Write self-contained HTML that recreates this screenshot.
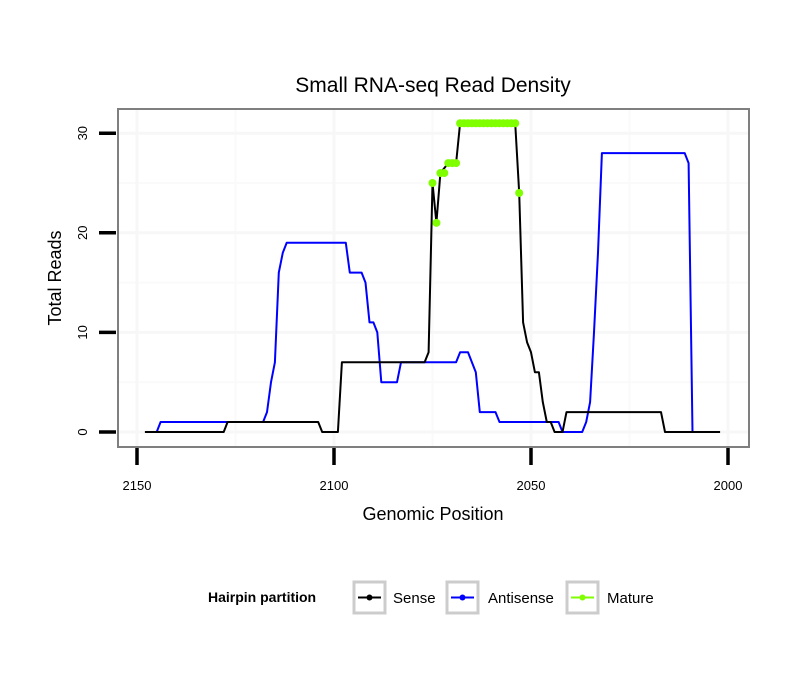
<!DOCTYPE html>
<html><head><meta charset="utf-8"><style>
html,body{margin:0;padding:0;background:#fff;}
svg{display:block;font-family:"Liberation Sans",Arial,sans-serif;}
</style></head><body>
<svg id="chart" width="810" height="690" viewBox="0 0 810 690" xmlns="http://www.w3.org/2000/svg">
<rect x="0" y="0" width="810" height="690" fill="#fff"/>
<text x="433" y="92" font-size="21" text-anchor="middle" fill="#000">Small RNA-seq Read Density</text>
<g id="grid"></g>
<g id="series"></g>
<rect x="118" y="109" width="631" height="338" fill="none" stroke="#7f7f7f" stroke-width="2"/>
<g id="axes"></g>
<text x="433" y="520" font-size="18" text-anchor="middle">Genomic Position</text>
<text transform="translate(61,278) rotate(-90)" font-size="18" text-anchor="middle">Total Reads</text>
<g>
<text x="208" y="602" font-size="14" font-weight="bold">Hairpin partition</text>
<g>
<rect x="354" y="582" width="31" height="31" fill="#fff" stroke="#cccccc" stroke-width="3"/>
<line x1="358" y1="597.5" x2="381" y2="597.5" stroke="#000" stroke-width="2"/>
<circle cx="369.5" cy="597.5" r="3" fill="#000"/>
<text x="393" y="603" font-size="15">Sense</text></g>
<g>
<rect x="447" y="582" width="31" height="31" fill="#fff" stroke="#cccccc" stroke-width="3"/>
<line x1="451" y1="597.5" x2="474" y2="597.5" stroke="#0000ff" stroke-width="2"/>
<circle cx="462.5" cy="597.5" r="3" fill="#0000ff"/>
<text x="488" y="603" font-size="15">Antisense</text></g>
<g>
<rect x="567" y="582" width="31" height="31" fill="#fff" stroke="#cccccc" stroke-width="3"/>
<line x1="571" y1="597.5" x2="594" y2="597.5" stroke="#7fff00" stroke-width="2"/>
<circle cx="582.5" cy="597.5" r="3" fill="#7fff00"/>
<text x="607" y="603" font-size="15">Mature</text></g>
</g>
</svg>
<script>
const xTicks = [2150, 2100, 2050, 2000];
const xMinor = [2125, 2075, 2025];
const yTicks = [0, 10, 20, 30];
const yMinor = [5, 15, 25];
const sensePos = [2148,2128,2127,2104,2103,2099,2098,2077,2076,2075,2074,2073,2071,2069,2068,2054,2053,2052,2051,2050,2049,2048,2047,2046,2045,2044,2042,2041,2017,2016,2002];
const senseVal = [0,0,1,1,0,0,7,7,8,25,21,26,27,27,31,31,24,11,9,8,6,6,3,1,1,0,0,2,2,0,0];
const antiPos = [2145,2144,2118,2117,2116,2115,2114,2113,2112,2097,2096,2093,2092,2091,2090,2089,2088,2084,2083,2069,2068,2066,2065,2064,2063,2059,2058,2043,2042,2037,2036,2035,2034,2033,2032,2011,2010,2009];
const antiVal = [0,1,1,2,5,7,16,18,19,19,16,16,15,11,11,10,5,5,7,7,8,8,7,6,2,2,1,1,0,0,1,3,10,18,28,28,27,0];
const maturePos = [2075,2074,2073,2072,2071,2070,2069,2068,2067,2066,2065,2064,2063,2062,2061,2060,2059,2058,2057,2056,2055,2054,2053];
const matureVal = [25,21,26,26,27,27,27,31,31,31,31,31,31,31,31,31,31,31,31,31,31,31,24];

const NS = 'http://www.w3.org/2000/svg';
function xs(p){ return 137 + (2150 - p) * 3.94; }
function ys(v){ return 432 - v * 9.96; }
function mk(tag, attrs, parent){ const e = document.createElementNS(NS, tag); for (const k in attrs) e.setAttribute(k, attrs[k]); parent.appendChild(e); return e; }
const grid = document.getElementById('grid'), axes = document.getElementById('axes'), series = document.getElementById('series');

xMinor.forEach(p => { const l = mk('line', {x1: xs(p), x2: xs(p), y1: 110, y2: 446, stroke: '#fafafa', 'stroke-width': 2}, grid);
    });
yMinor.forEach(v => { const l = mk('line', {x1: 119, x2: 748, y1: ys(v), y2: ys(v), stroke: '#fafafa', 'stroke-width': 2}, grid);
    });
xTicks.forEach(p => { const l = mk('line', {x1: xs(p), x2: xs(p), y1: 110, y2: 446, stroke: '#f7f7f7', 'stroke-width': 3}, grid);
    });
yTicks.forEach(v => { const l = mk('line', {x1: 119, x2: 748, y1: ys(v), y2: ys(v), stroke: '#f7f7f7', 'stroke-width': 3}, grid);
    });

xTicks.forEach(p => {
  const t = mk('line', {x1: xs(p), x2: xs(p), y1: 448, y2: 465, stroke: '#000', 'stroke-width': 3.5}, axes);
   
  const tx = mk('text', {x: xs(p), y: 490, 'font-size': 13, 'text-anchor': 'middle'}, axes);
  tx.textContent = p;
   
});
yTicks.forEach(v => {
  const t = mk('line', {x1: 99, x2: 116, y1: ys(v), y2: ys(v), stroke: '#000', 'stroke-width': 3.5}, axes);
   
  const tx = mk('text', {transform: 'translate(87,' + ys(v) + ') rotate(-90)', 'font-size': 13, 'text-anchor': 'middle'}, axes);
  tx.textContent = v;
   
});

function line(pos, val, color, name){
  const d = pos.map((p, i) => (i ? 'L' : 'M') + xs(p).toFixed(1) + ',' + ys(val[i]).toFixed(1)).join(' ');
  const l = mk('path', {d: d, fill: 'none', stroke: color, 'stroke-width': 2, 'stroke-linejoin': 'round'}, series);
   
}
line(antiPos, antiVal, '#0000ff', 'antisense-line');
line(sensePos, senseVal, '#000000', 'sense-line');
maturePos.forEach((p, i) => {
  const c = mk('circle', {cx: xs(p), cy: ys(matureVal[i]), r: 4, fill: '#7fff00'}, series);
   
});
</script>
</body></html>
